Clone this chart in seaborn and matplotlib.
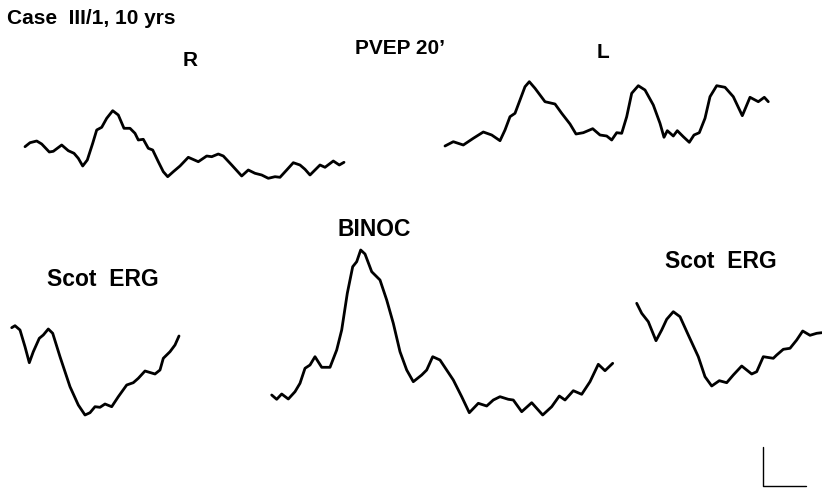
import matplotlib
matplotlib.use("Agg")
import matplotlib.pyplot as plt
import seaborn as sns
import pandas as pd

# Traces (page coordinates: x to the right, y downward)
r_x = [25, 30, 36.7, 41.7, 49.3, 53.3, 61.7, 68.3, 74, 78.3, 82.7, 87.3, 92.7, 96.7, 101.7, 106.7,
       112.7, 118.3, 124, 130, 135, 138.3, 143.3, 148.3, 152.7, 158.3, 163.3, 167.7, 173.3, 180,
       188.3, 198.3, 206.7, 211.7, 218.3, 223.3, 231.7, 241.7, 248.3, 255, 261.7, 268.3, 275, 280,
       286.7, 293.3, 300, 305, 310, 315, 320, 325, 333.3, 339.3, 344]
r_y = [146.7, 142.7, 141, 144, 152, 151.3, 145, 150.7, 153.3, 158.3, 166, 160, 143.3, 130, 127.3,
       118.3, 110.7, 115, 128.3, 128.3, 133.3, 140, 139.3, 148.3, 150, 161.7, 171.7, 176.7, 171.7,
       166, 157.3, 161.7, 156, 156.7, 154, 156, 165, 176, 170, 173.3, 175, 178.3, 176.7, 177.3,
       170, 162.7, 165, 169.3, 175, 170, 165, 167.3, 161, 165, 162.3]

l_x = [445, 453.3, 463.3, 473.3, 483.3, 491.7, 500, 505, 510, 515, 520, 525, 529.3, 535, 545, 555,
       561.7, 570, 576, 583.3, 592.7, 600, 606.7, 611.7, 616.7, 621.7, 626.7, 631.7, 638.3, 645,
       653.3, 660, 664, 667.3, 673.3, 677.3, 683.3, 689.3, 694, 699.3, 705, 710, 716.7, 725,
       733.3, 742.3, 750, 758.3, 764.3, 768.3]
l_y = [146, 141.7, 145, 138.3, 132, 135, 140.7, 130, 116.7, 113.3, 100, 86.7, 81.7, 88.3, 101.7,
       104, 113.3, 124, 134, 132.7, 128.7, 135, 136, 140, 132.7, 133.3, 116.7, 93.3, 85.7, 90,
       105, 123.3, 137.3, 130.7, 136, 130.7, 136.7, 142.3, 135, 132.7, 118.3, 96.7, 85.7, 87.3,
       96.7, 115.7, 97.3, 101.7, 97.3, 101.7]

erg_l_x = [11.7, 15, 20, 25, 29.3, 33.3, 39.3, 43.3, 48.3, 52.7, 60, 70, 78.3, 85, 90, 95, 100,
           105, 111.7, 118.3, 126.7, 133.3, 138.3, 145, 155, 160, 163.3, 170, 175, 179]
erg_l_y = [327.7, 325.7, 330, 346.7, 362.7, 351.7, 338.3, 335, 329, 333.3, 356.7, 386.7, 405, 415,
           412.7, 406.7, 407.3, 404, 406.7, 396.7, 385, 382.7, 378.3, 371, 374, 370, 358.3, 351.7,
           345, 336]

bin_x = [271.7, 276.7, 281.7, 288.3, 295, 300, 305, 310, 315, 321.7, 330, 336.7, 341.7, 347.3,
         352.7, 356.7, 360.7, 365, 371.7, 380, 386.7, 393.3, 400, 406.7, 413.3, 421.7, 426.7,
         432.7, 440, 453.3, 461.7, 469.3, 478.3, 486.7, 493.3, 500, 508.3, 513.3, 521.7, 531.7,
         542.7, 551.7, 559.3, 565, 573.3, 581.7, 590, 598.3, 605, 612.7]
bin_y = [395, 399.3, 394, 399, 391.7, 383.3, 368.3, 365, 356.7, 367.3, 367.3, 350, 330, 293.3,
         266.7, 261.7, 250, 254, 271.7, 280, 300, 323.3, 351.7, 370, 381.7, 375, 370, 356.7, 360,
         380, 396.7, 412.7, 403.3, 406, 400, 396.7, 399.3, 400, 411.7, 402.7, 415, 406.7, 396,
         400, 390.7, 394.3, 381.7, 364.3, 370.7, 363.3]

erg_r_x = [636.7, 641.7, 648.3, 656, 661.7, 666.7, 673.3, 680, 688.3, 698.3, 705, 711.7, 719.3,
           726.7, 733.3, 741.7, 751.7, 756.7, 763.3, 773.3, 776.7, 783.3, 790, 796.7, 802.7, 810,
           816.7, 821.7]
erg_r_y = [303.3, 313.3, 321.7, 340.7, 330, 319.3, 311.7, 316.7, 335, 356.7, 376.7, 386, 380.7,
           382.7, 375, 366, 374, 371.7, 356.7, 358.3, 355, 349.3, 348.3, 340, 331, 335.3, 333.3,
           332.7]

labels = ["Case  III/1, 10 yrs", "PVEP 20\u2019", "R", "L", "BINOC", "Scot  ERG", "Scot  ERG"]

sns.set_theme(style="white")
plt.rcParams["font.family"] = ["Liberation Sans", "DejaVu Sans"]

fig = plt.figure(figsize=(8.22, 4.88), dpi=100)
ax = fig.add_axes([0, 0, 1, 1])

traces = [(r_x, r_y), (l_x, l_y), (erg_l_x, erg_l_y), (bin_x, bin_y), (erg_r_x, erg_r_y)]
for xs, ys in traces:
    df = pd.DataFrame({"x": xs, "y": ys})
    sns.lineplot(data=df, x="x", y="y", ax=ax, sort=False, estimator=None,
                 color="black", linewidth=2.0, solid_joinstyle="round",
                 solid_capstyle="round")

# Calibration bar
ax.plot([763, 763, 806], [447, 486, 486], color="black", linewidth=1.0)

ax.set_xlim(0, 822)
ax.set_ylim(488, 0)
ax.axis("off")

txt = dict(color="black", fontweight="bold", va="center")
ax.text(7, 19, labels[0], ha="left", fontsize=15, **txt)
ax.text(400, 48, labels[1], ha="center", fontsize=15, **txt)
ax.text(190, 61, labels[2], ha="center", fontsize=15, **txt)
ax.text(603, 52, labels[3], ha="center", fontsize=15, **txt)
ax.text(374, 229, labels[4], ha="center", fontsize=16.5, **txt)
ax.text(103, 279, labels[5], ha="center", fontsize=16.5, **txt)
ax.text(721, 262, labels[6], ha="center", fontsize=16.5, **txt)

fig.savefig("out.png", dpi=100, facecolor="white")
